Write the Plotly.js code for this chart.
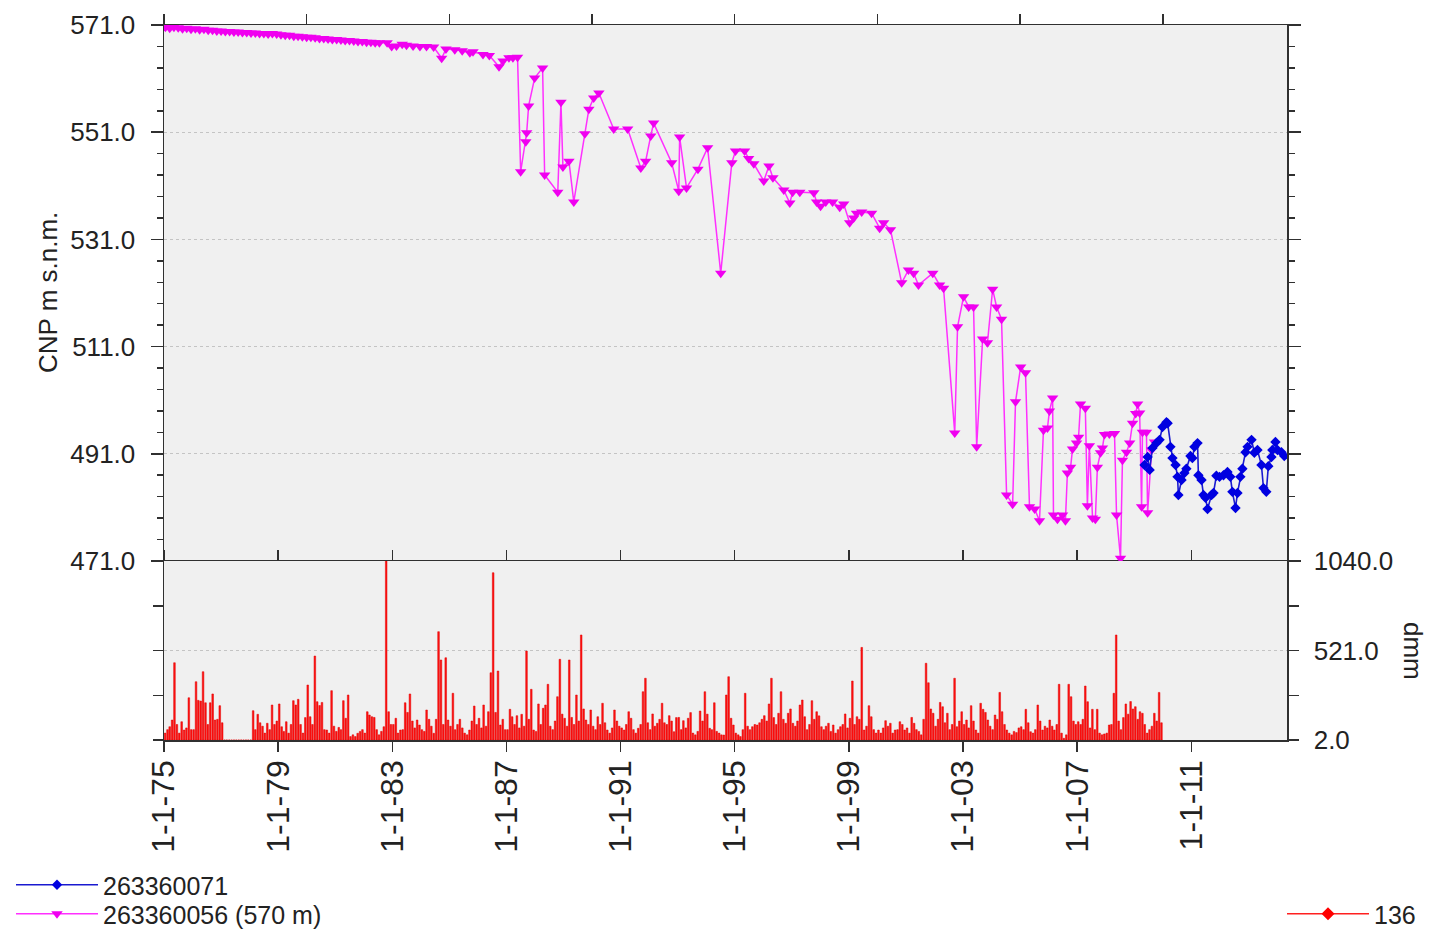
<!DOCTYPE html>
<html>
<head>
<meta charset="utf-8">
<script src="https://cdn.plot.ly/plotly-3.0.1.min.js"></script>
<style>
  html, body { margin: 0; padding: 0; background: #ffffff; }
  #chart { width: 1441px; height: 937px; }
</style>
</head>
<body>
<div id="chart"></div>
<script>
// ---------- DATA (decimal years / values) ----------
const magentaName = "263360056 (570 m)";
const magentaYears = [
  1975.05,1975.2,1975.35,1975.5,1975.65,1975.8,1975.95,1976.1,1976.25,1976.4,1976.55,1976.7,1976.85,
  1977.0,1977.15,1977.3,1977.45,1977.6,1977.75,1977.9,1978.05,1978.2,1978.35,1978.5,1978.65,1978.8,1978.95,
  1979.1,1979.25,1979.4,1979.55,1979.7,1979.85,1980.0,1980.15,1980.3,1980.45,1980.6,1980.75,1980.9,
  1981.05,1981.2,1981.35,1981.5,1981.65,1981.8,1981.95,1982.1,1982.25,1982.4,1982.55,1982.82,1982.98,
  1983.15,1983.35,1983.5,1983.73,1983.97,1984.2,1984.45,1984.73,1984.88,1985.19,1985.45,1985.72,1985.83,
  1986.18,1986.4,1986.74,1986.88,1987.09,1987.23,1987.39,
  1987.50,1987.68,1987.71,1987.78,1987.99,1988.27,1988.34,1988.80,1988.91,1988.98,1989.19,1989.36,
  1989.75,1989.89,1990.06,1990.24,1990.76,1991.25,1991.71,1991.88,1992.06,1992.16,1992.79,1993.04,
  1993.07,1993.31,1993.71,1994.05,1994.51,1994.90,1995.03,1995.35,1995.49,1995.67,1996.02,1996.20,
  1996.34,1996.72,1996.93,1997.03,1997.28,1997.77,1997.87,1998.01,1998.19,1998.43,1998.68,1998.82,
  1999.03,1999.17,1999.27,1999.45,1999.80,2000.08,2000.22,2000.46,2000.85,2001.09,2001.27,2001.44,
  2001.94,2002.18,2002.32,2002.71,2002.81,2003.02,2003.20,2003.37,2003.48,2003.69,2003.86,2004.04,
  2004.18,2004.35,2004.53,2004.74,2004.84,2005.02,2005.19,2005.33,2005.51,2005.68,2005.82,2005.96,
  2006.03,2006.14,2006.17,2006.31,2006.49,2006.59,2006.66,2006.77,2006.84,2006.98,2007.05,2007.12,
  2007.29,2007.36,2007.43,2007.54,2007.64,2007.71,2007.82,2007.89,2007.96,2008.13,2008.31,2008.38,
  2008.52,2008.59,2008.73,2008.84,2008.94,2009.05,2009.12,2009.19,2009.26,2009.29,2009.43,2009.47,
  2009.61,2009.71
];
const magentaLevels = [
  570.6,570.4,570.6,570.5,570.3,570.4,570.2,570.3,570.1,570.2,570.0,570.0,569.9,
  569.9,569.8,569.8,569.7,569.7,569.6,569.6,569.5,569.5,569.4,569.4,569.3,569.4,569.3,
  569.2,569.1,569.1,568.9,568.9,568.8,568.7,568.7,568.6,568.5,568.5,568.4,568.3,
  568.3,568.2,568.1,568.1,568.0,567.9,567.9,567.8,567.8,567.7,567.7,567.7,567.0,
  567.1,567.4,567.2,567.1,567.0,567.0,566.9,564.8,566.5,566.4,566.2,565.8,566.0,
  565.5,565.3,563.2,564.3,564.9,564.9,565.0,
  543.6,549.2,550.9,555.9,561.1,563.0,543.0,539.8,556.6,544.5,545.6,538.0,
  550.7,555.3,557.4,558.3,551.6,551.6,544.3,545.6,550.3,552.7,545.3,540.0,
  550.1,540.6,544.1,548.1,524.7,545.3,547.5,547.5,546.1,545.1,541.9,544.7,
  542.5,540.2,537.8,539.8,539.8,539.7,538.0,537.2,538.0,538.0,537.0,537.6,
  534.1,535.0,535.9,536.1,535.9,533.1,534.1,532.8,522.9,525.3,524.7,522.5,
  524.7,522.5,521.9,494.9,514.7,520.3,518.4,518.4,492.3,512.4,511.7,521.7,
  518.4,516.1,483.3,481.6,500.7,507.2,506.1,481.1,480.7,478.5,495.4,495.8,
  499.0,501.4,479.6,478.8,479.6,478.5,487.4,488.5,491.9,493.0,494.1,500.3,
  499.5,481.3,492.5,479.0,478.8,488.5,491.2,492.1,494.6,494.7,494.8,479.6,
  471.5,489.8,491.3,493.0,496.7,498.5,500.3,498.6,481.1,495.0,495.0,480.0,
  491.7,493.2
];

const blueName = "263360071";
const blueYears = [
  2009.36,2009.47,2009.54,2009.64,2009.78,2009.89,2009.99,2010.13,2010.17,2010.27,2010.34,2010.45,
  2010.52,2010.55,2010.66,2010.76,2010.83,2010.97,2011.04,2011.11,2011.22,2011.25,2011.36,2011.43,
  2011.50,2011.57,2011.71,2011.78,2011.88,2011.99,2012.13,2012.27,2012.37,2012.44,2012.55,2012.62,
  2012.72,2012.79,2012.90,2012.97,2013.11,2013.21,2013.32,2013.46,2013.53,2013.63,2013.70,2013.81,
  2013.84,2013.95,2014.02,2014.16,2014.26
];
const blueLevels = [
  488.9,490.4,488.0,492.1,493.0,493.6,496.0,496.9,496.7,492.3,490.2,488.9,
  486.7,483.3,486.1,487.4,488.2,490.6,490.2,492.3,493.0,487.0,486.1,483.3,
  482.8,480.7,483.3,483.7,486.9,486.7,487.0,487.6,486.7,483.9,480.9,483.7,
  486.7,488.2,491.3,492.3,493.6,491.2,491.7,488.9,484.6,483.9,488.7,490.4,
  491.7,493.2,491.7,491.3,490.6
];

// Monthly precipitation (dmm), one row per year, Jan..Dec, starting 1975
const rainName = "136";
const rainFirstYear = 1975;
const rainMonthly = [
  [40,60,77,116,448,90,40,106,58,70,245,60],        // 1975
  [60,338,230,226,396,216,90,216,267,116,120,199],  // 1976
  [100,0,0,0,0,0,0,0,0,0,0,0],                      // 1977
  [0,170,60,149,100,80,40,97,60,203,90,110],        // 1978
  [209,77,50,106,40,90,228,203,236,90,40,130],      // 1979
  [319,135,90,487,222,200,218,60,58,40,286,80],     // 1980
  [50,73,60,228,126,261,20,30,20,39,50,60],         // 1981
  [40,164,145,135,131,60,30,50,77,1040,164,90],     // 1982
  [90,126,40,58,60,216,160,267,110,70,116,87],      // 1983
  [60,50,174,120,80,39,120,628,464,90,477,116],     // 1984
  [80,271,60,90,120,70,40,30,58,110,197,90],        // 1985
  [126,70,203,80,164,390,970,160,400,87,120,60],    // 1986
  [60,178,135,90,141,70,149,80,516,120,294,58],     // 1987
  [50,209,90,184,203,323,80,60,110,251,468,150],    // 1988
  [126,80,464,131,90,261,110,609,180,116,90,174],   // 1989
  [80,60,135,90,213,100,58,40,70,174,110,80],       // 1990
  [70,58,90,164,126,60,40,68,90,280,358,100],       // 1991
  [60,151,80,97,120,213,100,90,141,110,48,130],     // 1992
  [131,60,112,70,126,159,40,30,50,168,110,280],     // 1993
  [150,68,60,216,50,40,30,29,261,367,126,87],       // 1994
  [40,30,20,60,271,80,60,77,90,87,100,120],         // 1995
  [141,110,209,358,130,90,155,280,120,97,155,180],  // 1996
  [97,80,110,203,232,135,60,90,228,120,164,140],    // 1997
  [77,60,80,97,50,87,40,60,77,90,151,70],           // 1998
  [126,342,90,135,120,537,58,80,199,135,60,40],     // 1999
  [58,40,70,112,80,97,40,58,60,106,90,58],          // 2000
  [70,40,131,97,60,50,30,120,445,332,180,155],      // 2001
  [80,120,218,193,100,155,60,90,358,77,110,164],    // 2002
  [90,116,70,199,110,58,40,213,178,160,116,80],     // 2003
  [60,145,120,276,164,90,58,40,30,50,43,70],        // 2004
  [77,60,178,100,48,40,60,203,110,58,80,70],        // 2005
  [116,80,58,90,323,40,10,30,323,251,110,90],       // 2006
  [106,90,120,313,222,70,178,60,178,40,30,35],      // 2007
  [40,87,90,271,609,110,60,130,209,150,223,180],    // 2008
  [193,120,164,155,90,40,60,80,155,110,276,100]     // 2009
];

const yTicksTop = [471, 491, 511, 531, 551, 571];
const yTicksRain = [2, 521, 1040];
const xRange = ["1975-01-01", "2014-05-10"];
const yTitleTop = "CNP m s.n.m.";
const yTitleRain = "dmm";

// ---------- helpers ----------
function yearToDate(y) {
  const yr = Math.floor(y);
  const s = Date.UTC(yr, 0, 1), e = Date.UTC(yr + 1, 0, 1);
  return new Date(s + (y - yr) * (e - s)).toISOString().slice(0, 10);
}
const rainX = [], rainY = [];
rainMonthly.forEach((row, i) => {
  row.forEach((v, m) => {
    const yr = rainFirstYear + i;
    rainX.push(yr + "-" + String(m + 1).padStart(2, "0") + "-15");
    rainY.push(v);
  });
});

const FONT = "Liberation Sans, Arial, Helvetica, sans-serif";
const TXT = "#222222";
const AX = "#303030";
const W = 1441, H = 937;
const ML = 164, MT = 25, PW = 1123, PH = 715;
const px2paperX = (px) => (px - ML) / PW;
const px2paperY = (py) => (MT + PH - py) / PH;

const traces = [
  {
    type: "scatter", mode: "lines+markers", name: magentaName,
    x: magentaYears.map(yearToDate), y: magentaLevels,
    xaxis: "x2", yaxis: "y", legend: "legend3",
    line: { color: "#ff30ff", width: 1.5 },
    marker: { symbol: "triangle-down", size: 10, color: "#f000f0", line: { width: 0 } }
  },
  {
    type: "scatter", mode: "lines+markers", name: blueName,
    x: blueYears.map(yearToDate), y: blueLevels,
    xaxis: "x2", yaxis: "y", legend: "legend",
    line: { color: "#1a1ad0", width: 1.6 },
    marker: { symbol: "diamond", size: 8, color: "#0000e0", line: { width: 0 } }
  },
  {
    type: "bar", name: rainName, x: rainX, y: rainY,
    xaxis: "x", yaxis: "y2", showlegend: false, base: 2,
    marker: { color: "#ff1010", line: { color: "#e00000", width: 0.5 } }
  },
  {
    type: "scatter", mode: "lines+markers", name: rainName,
    x: [null], y: [null], xaxis: "x", yaxis: "y2", legend: "legend2",
    line: { color: "#ff2020", width: 1.5 },
    marker: { symbol: "diamond", size: 10, color: "#ff0000" }
  }
];

const topDomain = [(740 - 561) / 715, 1];
const botDomain = [0, (740 - 561) / 715];

function legendBox(leftPx, rowPx) {
  return {
    xref: "container", yref: "container",
    x: leftPx / W, xanchor: "left", y: 1 - rowPx / H, yanchor: "middle",
    bgcolor: "rgba(0,0,0,0)", font: { size: 25, color: TXT }, itemwidth: 82
  };
}

const layout = {
  width: W, height: H,
  margin: { l: 164, r: 154, t: 25, b: 197, autoexpand: false },
  paper_bgcolor: "#ffffff",
  plot_bgcolor: "#f0f0f0",
  font: { family: FONT, size: 26, color: TXT },
  bargap: 0.25,
  xaxis: {
    type: "date", range: xRange, anchor: "y2", domain: [0, 1], automargin: false,
    tickformat: "%-d-%-m-%y", tick0: "1975-01-01", dtick: "M48",
    tickangle: -90, ticks: "outside", ticklen: 10, tickwidth: 1.5, tickcolor: AX,
    showline: true, linecolor: AX, linewidth: 1.5, mirror: "ticks",
    showgrid: false, zeroline: false, ticklabelstandoff: -4,
    tickfont: { size: 32, color: TXT }
  },
  xaxis2: {
    type: "date", matches: "x", anchor: "y", side: "top", automargin: false,
    ticks: "outside", ticklen: 10, tickwidth: 1.5, tickcolor: AX,
    showticklabels: false, showline: true, linecolor: AX, linewidth: 1.5,
    showgrid: false, zeroline: false
  },
  yaxis: {
    domain: topDomain, range: [471, 571], anchor: "x2", automargin: false,
    tickvals: yTicksTop, tickformat: ".1f",
    ticks: "outside", ticklen: 12, tickwidth: 1.5, tickcolor: AX,
    minor: { dtick: 4, tick0: 471, ticks: "outside", ticklen: 6, tickcolor: AX, showgrid: false },
    showline: true, linecolor: AX, linewidth: 1.5, mirror: "allticks",
    showgrid: true, gridcolor: "#c4c4c4", griddash: "dot", gridwidth: 1,
    zeroline: false, ticklabelstandoff: 10,
    tickfont: { size: 26, color: TXT }
  },
  yaxis2: {
    domain: botDomain, range: [2, 1040], anchor: "x", side: "right", automargin: false,
    tickvals: yTicksRain, tickformat: ".1f",
    ticks: "outside", ticklen: 10, tickwidth: 1.5, tickcolor: AX,
    minor: { dtick: 259.5, tick0: 2, ticks: "outside", ticklen: 10, tickcolor: AX, showgrid: false },
    showline: true, linecolor: AX, linewidth: 1.5, mirror: "ticks",
    showgrid: true, gridcolor: "#c4c4c4", griddash: "dot", gridwidth: 1,
    zeroline: false, ticklabelstandoff: 10,
    tickfont: { size: 26, color: TXT }
  },
  legend: legendBox(11, 885),
  legend3: legendBox(11, 914),
  legend2: legendBox(1282, 914),
  annotations: [
    {
      text: yTitleTop, xref: "paper", yref: "paper",
      x: px2paperX(48), y: px2paperY(293),
      xanchor: "center", yanchor: "middle", textangle: -90, showarrow: false,
      font: { size: 26, color: TXT }
    },
    {
      text: yTitleRain, xref: "paper", yref: "paper",
      x: px2paperX(1413), y: px2paperY(651),
      xanchor: "center", yanchor: "middle", textangle: 90, showarrow: false,
      font: { size: 26, color: TXT }
    }
  ],
  showlegend: true
};

Plotly.newPlot("chart", traces, layout, { displayModeBar: false, staticPlot: true });
</script>
</body>
</html>
